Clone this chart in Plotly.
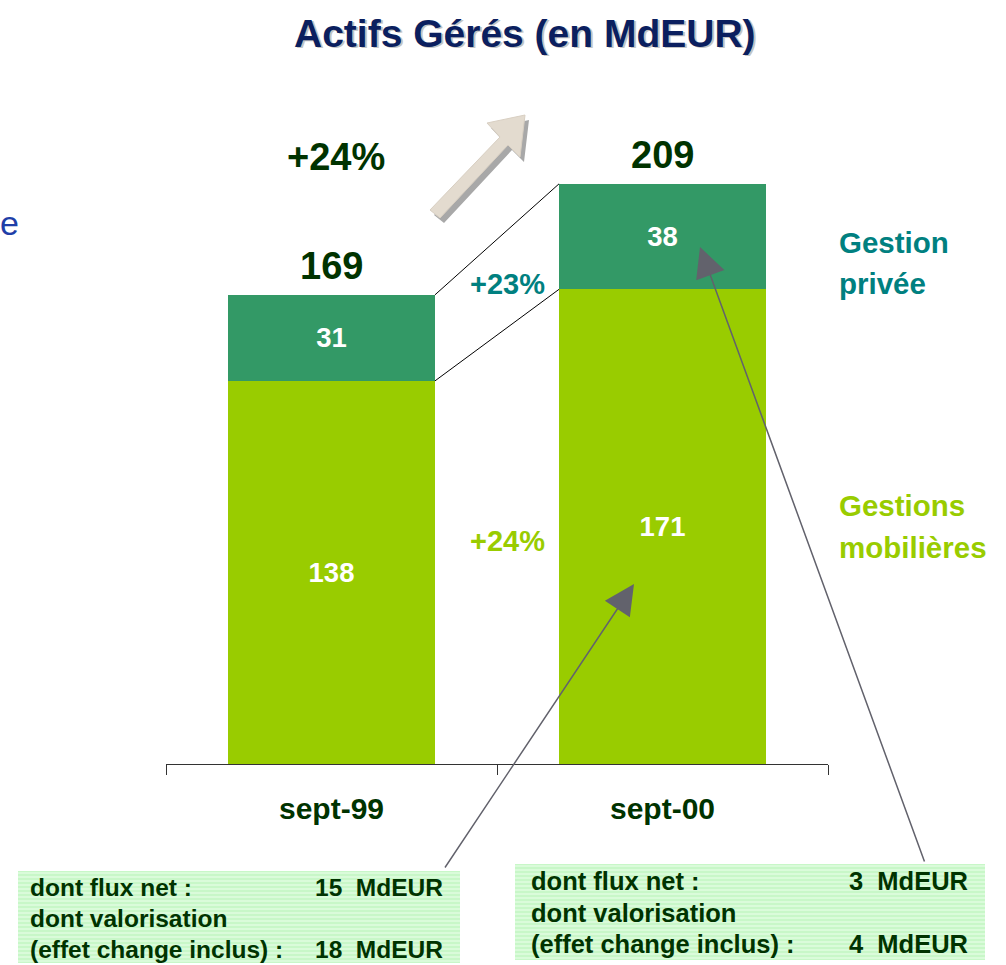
import plotly.graph_objects as go

# ---------------- data ----------------
categories = ["sept-99", "sept-00"]
series_names = ["Gestions mobilières", "Gestion privée"]
mobilieres = [138, 171]
privee = [31, 38]
flux_net = [15, 3]
valorisation = [18, 4]
title_text = "Actifs Gérés (en MdEUR)"

totals = [a + b for a, b in zip(mobilieres, privee)]
g_priv = round((privee[1] / privee[0] - 1) * 100)
g_mob = round((mobilieres[1] / mobilieres[0] - 1) * 100)
g_tot = round((totals[1] / totals[0] - 1) * 100)

# ---------------- layout helpers ----------------
FONT = "Liberation Sans, Arial, sans-serif"
W, H = 1006, 965
L, R, T, B = 166, 178, 70, 201
PW = W - L - R
PH = H - T - B


def px(x):
    return (x - L) / PW


def py(y):
    return (H - B - y) / PH


DARK = "#003300"
TEAL = "#008080"
LIME = "#99CC00"
GREEN = "#339966"
BAR_W = 0.625

fig = go.Figure()
fig.add_bar(x=categories, y=mobilieres, name=series_names[0], width=BAR_W,
            marker=dict(color=LIME, line_width=0),
            text=[str(v) for v in mobilieres], textposition="inside",
            insidetextanchor="middle", textangle=0,
            textfont=dict(color="white", size=27.5, family=FONT, weight="bold"))
fig.add_bar(x=categories, y=privee, name=series_names[1], width=BAR_W,
            marker=dict(color=GREEN, line_width=0),
            text=[str(v) for v in privee], textposition="inside",
            insidetextanchor="middle", textangle=0,
            textfont=dict(color="white", size=27.5, family=FONT, weight="bold"))

shapes = []
# connecting lines between bars
hw = BAR_W / 2
for a, b in [(totals[0], totals[1]), (mobilieres[0], mobilieres[1])]:
    shapes.append(dict(type="line", xref="x", yref="y", x0=0 + hw, y0=a, x1=1 - hw, y1=b,
                       line=dict(color="black", width=1)))

# decorative beige arrow (shadow + body)
arrow_pts = [(430, 210), (500, 137), (487, 123), (525, 115), (520, 157), (508, 145), (440, 218)]


def poly(pts, dx=0, dy=0):
    return "M" + " L".join(f"{px(x + dx)},{py(y + dy)}" for x, y in pts) + " Z"


shapes.append(dict(type="path", xref="paper", yref="paper", path=poly(arrow_pts, 4, 5),
                   fillcolor="#a8a8a8", line=dict(width=0)))
shapes.append(dict(type="path", xref="paper", yref="paper", path=poly(arrow_pts),
                   fillcolor="#e3dbcf", line=dict(color="#d8cfc2", width=1)))

# striped boxes
boxes = [(18, 871, 460, 963), (515, 864, 985, 960)]
for x0, y0, x1, y1 in boxes:
    shapes.append(dict(type="rect", xref="paper", yref="paper", x0=px(x0), x1=px(x1),
                       y0=py(y1), y1=py(y0), fillcolor="#c8f7c8", line=dict(width=0)))
    path = " ".join(f"M{px(x0)},{py(yy)} L{px(x1)},{py(yy)}" for yy in range(y0 + 2, y1, 4))
    shapes.append(dict(type="path", xref="paper", yref="paper", path=path,
                       line=dict(color="#ecffec", width=1)))

annotations = []


def ann(text, x, y, size, color, xanchor="center", weight="bold", xref="paper", yref="paper", **kw):
    annotations.append(dict(text=text, x=x, y=y, xref=xref, yref=yref, showarrow=False,
                            xanchor=xanchor, yanchor="middle",
                            font=dict(family=FONT, size=size, color=color, weight=weight), **kw))


# title with shadow
ann(title_text, px(526.5), py(34.5), 39, "#c4c4c4")
ann(title_text, px(525), py(33), 39, "#0b1f5f")
# cut-off text at left
ann("e", px(-1), py(223), 34, "#1f3fa8", xanchor="left", weight="normal", borderpad=0)
# total growth
ann(f"+{g_tot}%", px(336), py(157), 38, DARK)
# totals above bars
for i, t in enumerate(totals):
    ann(str(t), i, t, 38, DARK, xref="x", yref="y", yshift=29)
# segment growth labels
ann(f"+{g_priv}%", 0.5, (sum(totals) / 2 + sum(mobilieres) / 2) / 2, 29, TEAL,
    xref="x", yref="y", xshift=10, yshift=3)
ann(f"+{g_mob}%", 0.5, sum(mobilieres) / 4, 29, LIME, xref="x", yref="y", xshift=10, yshift=9)
# side labels
for j, w in enumerate(series_names[1].split()):
    ann(w, px(837), py(242 + 41 * j), 29.5, TEAL, xanchor="left")
for j, w in enumerate(series_names[0].split()):
    ann(w, px(837), py(506 + 41 * j), 29.5, LIME, xanchor="left")

# box texts
box_text = [(28, 445, [887, 918, 949], 24.5), (529, 970, [881, 913, 944], 25.5)]
for i, (xl, xr, ys, fs) in enumerate(box_text):
    ann("dont flux net :", px(xl), py(ys[0]), fs, DARK, xanchor="left")
    ann(f"{flux_net[i]}&nbsp;&nbsp;MdEUR", px(xr), py(ys[0]), fs, DARK, xanchor="right")
    ann("dont valorisation", px(xl), py(ys[1]), fs, DARK, xanchor="left")
    ann("(effet change inclus) :", px(xl), py(ys[2]), fs, DARK, xanchor="left")
    ann(f"{valorisation[i]}&nbsp;&nbsp;MdEUR", px(xr), py(ys[2]), fs, DARK, xanchor="right")

# grey pointer arrows
for tip, tail in [((634, 584), (444, 869)), ((700, 247), (925, 863))]:
    annotations.append(dict(text="", x=px(tip[0]), y=py(tip[1]), xref="paper", yref="paper",
                            ax=tail[0] - tip[0], ay=tail[1] - tip[1], axref="pixel", ayref="pixel",
                            showarrow=True, arrowhead=2, arrowsize=4, arrowwidth=1.5,
                            arrowcolor="#62626c", standoff=0))

fig.update_layout(
    width=W, height=H, autosize=False,
    margin=dict(l=L, r=R, t=T, b=B, pad=0),
    barmode="stack", showlegend=False,
    paper_bgcolor="white", plot_bgcolor="white",
    shapes=shapes, annotations=annotations,
    xaxis=dict(type="category", range=[-0.5, 1.5], showline=True, linecolor="#333333",
               linewidth=1, ticks="outside", tickson="boundaries", ticklen=10,
               tickcolor="#333333", showgrid=False, zeroline=False,
               tickfont=dict(family=FONT, size=30, color=DARK, weight="bold"),
               ticklabelstandoff=18),
    yaxis=dict(visible=False, range=[0, 250], showgrid=False, zeroline=False),
)

fig.write_html("out.html", config={"displayModeBar": False},
               post_script="document.body.style.margin='0';document.body.style.overflow='hidden';")
